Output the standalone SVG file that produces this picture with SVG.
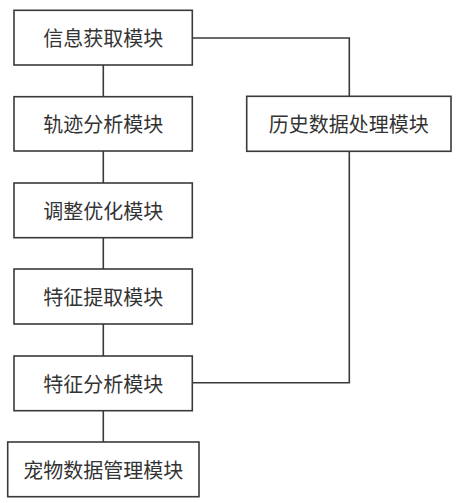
<svg xmlns="http://www.w3.org/2000/svg" width="459" height="503" viewBox="0 0 459 503">
<style>
.box{fill:#fff;stroke:#3a3a3a;stroke-width:1.6}
.lbl{font-family:"Noto Sans CJK SC","Noto Sans",sans-serif;font-size:20px;fill:#333;text-anchor:middle;dominant-baseline:central}
.con{fill:none;stroke:#3a3a3a;stroke-width:1.6}
</style>
<rect width="459" height="503" fill="#fff"/>
<g id="connectors">
<line class="con" x1="103.3" y1="65" x2="103.3" y2="96.7"/>
<line class="con" x1="103.3" y1="151" x2="103.3" y2="183"/>
<line class="con" x1="103.3" y1="237.7" x2="103.3" y2="269"/>
<line class="con" x1="103.3" y1="324" x2="103.3" y2="356"/>
<line class="con" x1="103.3" y1="410.7" x2="103.3" y2="442"/>
<polyline class="con" points="192.3,38 349.3,38 349.3,96.3"/>
<polyline class="con" points="349.3,151.3 349.3,382.7 192.3,382.7"/>
</g>
<g id="n1"><rect class="box" x="14" y="10.3" width="178.3" height="54.7"/><text class="lbl" x="103.3" y="37.7">信息获取模块</text></g>
<g id="n2"><rect class="box" x="14" y="96.7" width="178.3" height="54.3"/><text class="lbl" x="103.3" y="123.8">轨迹分析模块</text></g>
<g id="n3"><rect class="box" x="14" y="183" width="178.3" height="54.7"/><text class="lbl" x="103.3" y="210.3">调整优化模块</text></g>
<g id="n4"><rect class="box" x="14" y="269" width="178.3" height="55"/><text class="lbl" x="103.3" y="296.5">特征提取模块</text></g>
<g id="n5"><rect class="box" x="14" y="356" width="178.3" height="54.7"/><text class="lbl" x="103.3" y="383.3">特征分析模块</text></g>
<g id="n6"><rect class="box" x="7.7" y="442" width="191.3" height="54.7"/><text class="lbl" x="103.3" y="469.3">宠物数据管理模块</text></g>
<g id="n7"><rect class="box" x="246.7" y="96.3" width="204.3" height="55"/><text class="lbl" x="348.8" y="123.8">历史数据处理模块</text></g>
</svg>
